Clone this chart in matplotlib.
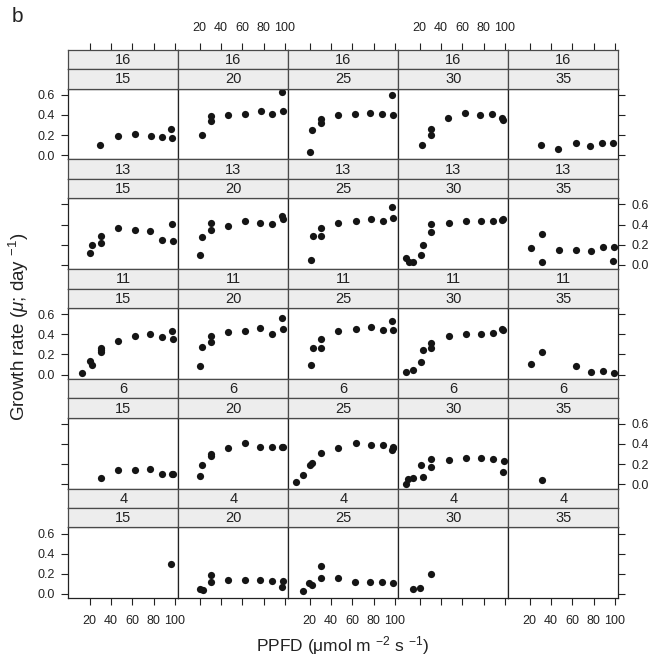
import matplotlib
matplotlib.use('Agg')
import matplotlib.pyplot as plt

plt.rcParams['font.family'] = ['Liberation Sans', 'DejaVu Sans']
plt.rcParams['mathtext.fontset'] = 'custom'
plt.rcParams['mathtext.rm'] = 'Liberation Sans'
plt.rcParams['mathtext.it'] = 'Liberation Sans:italic'
plt.rcParams['mathtext.default'] = 'regular'

# ---------------- data ----------------
daylengths = [16, 13, 11, 6, 4]
temperatures = [15, 20, 25, 30, 35]
x_ticks = [20, 40, 60, 80, 100]
y_ticks = [0.0, 0.2, 0.4, 0.6]
y_ticklabels = ['0.0', '0.2', '0.4', '0.6']

# daylength 16
x_d16_t15 = [30.2, 46.6, 62.3, 77.2, 88.2, 96.8, 97.6]
y_d16_t15 = [0.103, 0.186, 0.209, 0.189, 0.179, 0.256, 0.166]
x_d16_t20 = [22.4, 31, 31, 47, 63, 77.6, 88, 97, 98.4]
y_d16_t20 = [0.20, 0.39, 0.34, 0.40, 0.41, 0.44, 0.41, 0.63, 0.44]
x_d16_t25 = [20.8, 22.4, 30.6, 30.6, 46.7, 62.7, 76.9, 87.8, 96.9, 98]
y_d16_t25 = [0.033, 0.25, 0.36, 0.32, 0.40, 0.41, 0.42, 0.41, 0.60, 0.40]
x_d16_t30 = [22.7, 30.6, 30.6, 46.7, 63, 77, 88, 97.6, 98.4]
y_d16_t30 = [0.103, 0.26, 0.20, 0.37, 0.42, 0.40, 0.405, 0.37, 0.345]
x_d16_t35 = [31, 47, 63.5, 77, 88, 98]
y_d16_t35 = [0.10, 0.066, 0.123, 0.096, 0.12, 0.12]

# daylength 13
x_d13_t15 = [20.3, 22.5, 30.3, 30.3, 46.6, 62.5, 76.9, 87.9, 97.3, 97.9]
y_d13_t15 = [0.119, 0.198, 0.218, 0.284, 0.363, 0.343, 0.34, 0.244, 0.403, 0.238]
x_d13_t20 = [20.6, 22.5, 30.6, 30.6, 46.9, 62.9, 76.9, 88.2, 96.9, 97.9]
y_d13_t20 = [0.102, 0.274, 0.347, 0.416, 0.386, 0.436, 0.416, 0.403, 0.485, 0.455]
x_d13_t25 = [21, 22.8, 31, 31, 46.5, 63.2, 77.2, 88.5, 97.6, 98.5]
y_d13_t25 = [0.05, 0.29, 0.29, 0.363, 0.42, 0.432, 0.455, 0.436, 0.574, 0.462]
x_d13_t30 = [7.5, 9.7, 14.1, 21, 23.1, 31, 31, 47.2, 63.5, 77.5, 88.5, 97.2, 98.5]
y_d13_t30 = [0.066, 0.026, 0.03, 0.102, 0.2, 0.323, 0.403, 0.413, 0.439, 0.432, 0.439, 0.449, 0.459]
x_d13_t35 = [21.3, 31.6, 31.6, 47.5, 63.2, 77.5, 88.5, 98.8, 98.2]
y_d13_t35 = [0.165, 0.304, 0.026, 0.145, 0.149, 0.142, 0.182, 0.182, 0.04]

# daylength 11
x_d11_t15 = [12.8, 20, 22.2, 30.6, 30.6, 30.6, 46.6, 62.9, 76.9, 87.9, 97.2, 97.9]
y_d11_t15 = [0.013, 0.134, 0.092, 0.223, 0.262, 0.246, 0.334, 0.387, 0.403, 0.377, 0.43, 0.351]
x_d11_t20 = [20.6, 22.5, 30.6, 30.6, 46.9, 62.9, 76.9, 88.2, 97.2, 98.2]
y_d11_t20 = [0.085, 0.272, 0.387, 0.328, 0.423, 0.436, 0.459, 0.403, 0.564, 0.456]
x_d11_t25 = [21, 22.8, 31, 31, 46.9, 63.2, 77.2, 88.5, 97.6, 98.5]
y_d11_t25 = [0.092, 0.262, 0.262, 0.351, 0.436, 0.449, 0.472, 0.446, 0.528, 0.443]
x_d11_t30 = [7.5, 14.1, 21, 23.1, 31, 31, 47.2, 63.5, 77.5, 88.5, 97.2, 98.5]
y_d11_t30 = [0.03, 0.046, 0.121, 0.243, 0.311, 0.266, 0.38, 0.40, 0.40, 0.413, 0.452, 0.439]
x_d11_t35 = [21.3, 31.6, 63.5, 77.5, 88.5, 98.8]
y_d11_t35 = [0.105, 0.226, 0.082, 0.026, 0.036, 0.02]

# daylength 6
x_d6_t15 = [30.3, 46.6, 62.5, 76.9, 87.9, 97.3, 97.9]
y_d6_t15 = [0.063, 0.146, 0.146, 0.149, 0.106, 0.099, 0.10]
x_d6_t20 = [20.6, 22.5, 30.6, 30.6, 46.9, 62.9, 76.9, 88.2, 96.9, 97.9]
y_d6_t20 = [0.079, 0.192, 0.281, 0.296, 0.364, 0.407, 0.374, 0.368, 0.371, 0.374]
x_d6_t25 = [7.5, 14.1, 20.3, 22.2, 31, 46.9, 63.2, 77.2, 88.5, 97.6, 98.2, 98.5]
y_d6_t25 = [0.02, 0.089, 0.192, 0.215, 0.308, 0.358, 0.407, 0.394, 0.387, 0.338, 0.374, 0.361]
x_d6_t30 = [7.5, 9.4, 14.1, 21, 23.1, 31, 31, 47.2, 63.5, 77.5, 88.5, 98.8, 97.9]
y_d6_t30 = [0.007, 0.05, 0.066, 0.189, 0.076, 0.248, 0.175, 0.238, 0.262, 0.262, 0.252, 0.228, 0.119]
x_d6_t35 = [31.6]
y_d6_t35 = [0.046]

# daylength 4
x_d4_t15 = [96.6]
y_d4_t15 = [0.297]
x_d4_t20 = [20.6, 22.8, 31, 31, 47, 63, 76.9, 88.3, 97.5, 98.2]
y_d4_t20 = [0.053, 0.037, 0.187, 0.12, 0.143, 0.14, 0.14, 0.13, 0.073, 0.13]
x_d4_t25 = [13.5, 19.2, 22.4, 30.6, 30.6, 46.6, 62.6, 76.5, 87.9, 97.9]
y_d4_t25 = [0.03, 0.11, 0.09, 0.28, 0.157, 0.163, 0.123, 0.12, 0.12, 0.11]
x_d4_t30 = [13.5, 20.6, 30.6]
y_d4_t30 = [0.05, 0.06, 0.197]
x_d4_t35 = []
y_d4_t35 = []

panel_x = {
    (16, 15): x_d16_t15, (16, 20): x_d16_t20, (16, 25): x_d16_t25, (16, 30): x_d16_t30, (16, 35): x_d16_t35,
    (13, 15): x_d13_t15, (13, 20): x_d13_t20, (13, 25): x_d13_t25, (13, 30): x_d13_t30, (13, 35): x_d13_t35,
    (11, 15): x_d11_t15, (11, 20): x_d11_t20, (11, 25): x_d11_t25, (11, 30): x_d11_t30, (11, 35): x_d11_t35,
    (6, 15): x_d6_t15, (6, 20): x_d6_t20, (6, 25): x_d6_t25, (6, 30): x_d6_t30, (6, 35): x_d6_t35,
    (4, 15): x_d4_t15, (4, 20): x_d4_t20, (4, 25): x_d4_t25, (4, 30): x_d4_t30, (4, 35): x_d4_t35,
}
panel_y = {
    (16, 15): y_d16_t15, (16, 20): y_d16_t20, (16, 25): y_d16_t25, (16, 30): y_d16_t30, (16, 35): y_d16_t35,
    (13, 15): y_d13_t15, (13, 20): y_d13_t20, (13, 25): y_d13_t25, (13, 30): y_d13_t30, (13, 35): y_d13_t35,
    (11, 15): y_d11_t15, (11, 20): y_d11_t20, (11, 25): y_d11_t25, (11, 30): y_d11_t30, (11, 35): y_d11_t35,
    (6, 15): y_d6_t15, (6, 20): y_d6_t20, (6, 25): y_d6_t25, (6, 30): y_d6_t30, (6, 35): y_d6_t35,
    (4, 15): y_d4_t15, (4, 20): y_d4_t20, (4, 25): y_d4_t25, (4, 30): y_d4_t30, (4, 35): y_d4_t35,
}

# ---------------- layout ----------------
W, H = 656, 667
fig = plt.figure(figsize=(W / 100, H / 100), dpi=100)
fig.patch.set_facecolor('white')

L0, PW = 68.3, 110.0
T0, PITCH, PH = 88.5, 109.7, 71.0
SH = (PITCH - PH) / 2.0
XLIM = (0, 103.2)
YLIM = (-0.043, 0.662)
EDGE = '#222222'
STRIP_EDGE = '#4a4a4a'
STRIP_FILL = '#ededed'
TICKLEN = 5.2
TICKFS = 9


def ax_px(x, y, w, h):
    return fig.add_axes([x / W, 1 - (y + h) / H, w / W, h / H])


for r, d in enumerate(daylengths):
    for c, t in enumerate(temperatures):
        x0 = L0 + c * PW
        y0 = T0 + r * PITCH
        ax = ax_px(x0, y0, PW, PH)
        ax.scatter(panel_x[(d, t)], panel_y[(d, t)], s=27, color='#151515',
                   linewidths=0, zorder=3, clip_on=False)
        ax.set_xlim(*XLIM)
        ax.set_ylim(*YLIM)
        ax.set_xticks(x_ticks)
        ax.set_yticks(y_ticks)
        ax.set_yticklabels(y_ticklabels)
        ax.tick_params(axis='both', direction='out', length=TICKLEN, width=0.8,
                       color=EDGE, labelsize=TICKFS, labelcolor='#222222')
        ax.tick_params(axis='x', pad=6.5)
        ax.tick_params(axis='y', pad=4.5)
        ax.tick_params(left=(c == 0), labelleft=(c == 0 and r % 2 == 0),
                       right=(c == 4), labelright=(c == 4 and r % 2 == 1),
                       bottom=(r == 4), labelbottom=(r == 4 and c % 2 == 0),
                       top=False, labeltop=False)
        for sp in ax.spines.values():
            sp.set_linewidth(0.9)
            sp.set_color(EDGE)

        for k, lab in enumerate([d, t]):
            sax = ax_px(x0, y0 - (2 - k) * SH, PW, SH)
            sax.set_facecolor(STRIP_FILL)
            sax.set_xlim(*XLIM)
            sax.set_yticks([])
            for sp in sax.spines.values():
                sp.set_linewidth(0.9)
                sp.set_color(STRIP_EDGE)
            sax.text(0.5, 0.47, str(lab), ha='center', va='center',
                     fontsize=10.5, color='#222222', transform=sax.transAxes)
            if r == 0 and k == 0:
                sax.set_xticks(x_ticks)
                sax.tick_params(axis='x', direction='out', length=TICKLEN, width=0.8,
                                color=EDGE, labelsize=TICKFS, labelcolor='#222222',
                                pad=6.5, top=True, labeltop=(c % 2 == 1),
                                bottom=False, labelbottom=False)
            else:
                sax.set_xticks([])

fig.text(12 / W, 1 - 17 / H, 'b', fontsize=15, ha='left', va='center', color='#222222')
fig.text(19 / W, 1 - 327 / H, r'Growth rate ($\mathit{\mu}$; day $^{-1}$)', rotation=90,
         fontsize=13.5, ha='center', va='center', color='#222222')
fig.text(343 / W, 1 - 646 / H, r'PPFD (μmol m $^{-2}$ s $^{-1}$)',
         fontsize=12.5, ha='center', va='center', color='#222222')

fig.savefig('out.png', dpi=100, facecolor='white')
